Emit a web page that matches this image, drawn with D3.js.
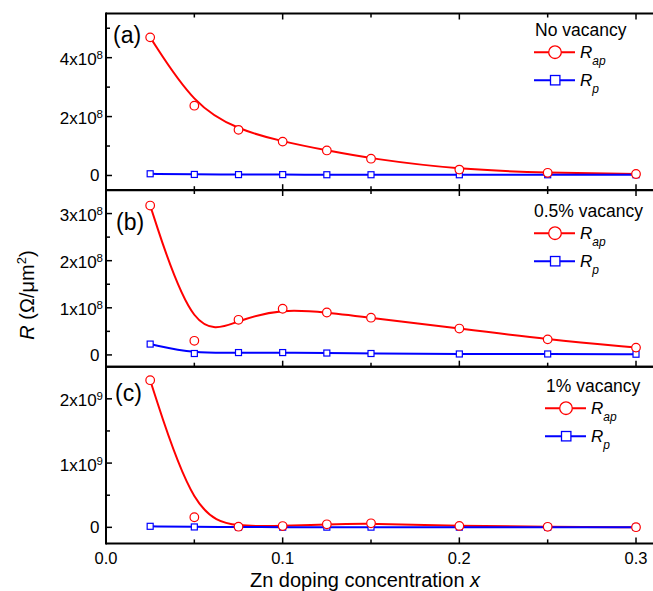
<!DOCTYPE html>
<html>
<head>
<meta charset="utf-8">
<script src="https://cdn.jsdelivr.net/npm/d3@7"></script>
<style>
  body { margin: 0; background: #fff; }
  text { font-family: "Liberation Sans", Arial, sans-serif; fill: #000; }
</style>
</head>
<body>
<div id="chart"></div>
<script>
// Data
var xVals = [0.025, 0.05, 0.075, 0.1, 0.125, 0.15, 0.2, 0.25, 0.3];

var rapNoVac = [4.69e8, 2.37e8, 1.55e8, 1.15e8, 0.85e8, 0.57e8, 0.20e8, 0.09e8, 0.05e8];
var rpNoVac  = [0.058e8, 0.035e8, 0.03e8, 0.03e8, 0.025e8, 0.025e8, 0.024e8, 0.024e8, 0.024e8];

var rapHalf = [3.17e8, 0.30e8, 0.745e8, 0.98e8, 0.90e8, 0.79e8, 0.56e8, 0.33e8, 0.155e8];
var rpHalf  = [0.23e8, 0.03e8, 0.05e8, 0.05e8, 0.04e8, 0.03e8, 0.02e8, 0.02e8, 0.015e8];

var rapOne = [2.29e9, 0.157e9, 0.01e9, 0.02e9, 0.047e9, 0.063e9, 0.022e9, 0.008e9, 0.002e9];
var rpOne  = [0.016e9, 0.006e9, 0.004e9, 0.003e9, 0.003e9, 0.003e9, 0.003e9, 0.002e9, 0.002e9];

var panelNames = ["(a)", "(b)", "(c)"];
var legendTitles = ["No vacancy", "0.5% vacancy", "1% vacancy"];

var yDomains = [[-0.5e8, 5.5e8], [-0.25e8, 3.5e8], [-0.25e9, 2.5e9]];
var yMajor = [[0, 2e8, 4e8], [0, 1e8, 2e8, 3e8], [0, 1e9, 2e9]];
var yMinor = [[1e8, 3e8, 5e8], [0.5e8, 1.5e8, 2.5e8], [0.5e9, 1.5e9]];
var yLabels = [["0", "2x10^8", "4x10^8"], ["0", "1x10^8", "2x10^8", "3x10^8"], ["0", "1x10^9", "2x10^9"]];

var xMajor = [0, 0.1, 0.2, 0.3];
var xMinor = [0.05, 0.15, 0.25];
var xLabels = ["0.0", "0.1", "0.2", "0.3"];

var rapSeries = [rapNoVac, rapHalf, rapOne];
var rpSeries = [rpNoVac, rpHalf, rpOne];

// Chart Params
var svgWidth = 653;
var svgHeight = 591;
var left = 106;
var panelTops = [13.5, 190, 366.7];
var panelH = 176.7;

var svg = d3.select("#chart")
  .append("svg")
  .attr("width", svgWidth)
  .attr("height", svgHeight);

var xScale = d3.scaleLinear()
  .domain([0, 0.31])
  .range([left, left + 0.31 * 1766.7]);

var red = "#ff0000";
var blue = "#0000ff";

// per-panel layout tweaks
var nameY = [43, 230, 401];
var nameX = [113, 116, 115];
var legX = [534, 534, 545];
var legTitleX = [535, 534, 546];
var legTitleY = [35.7, 216.7, 391.7];

panelNames.forEach(function(name, i) {
  var top = panelTops[i];
  var bottom = top + panelH;
  var yScale = d3.scaleLinear().domain(yDomains[i]).range([bottom, top]);
  var g = svg.append("g");

  // curves
  var pts = function(arr) { return xVals.map(function(x, k) { return [x, arr[k]]; }); };
  var line = d3.line()
    .x(function(d) { return xScale(d[0]); })
    .y(function(d) { return yScale(d[1]); })
    .curve(d3.curveBasis);

  g.append("path").datum(pts(rapSeries[i]))
    .attr("d", line).attr("fill", "none").attr("stroke", red).attr("stroke-width", 2);
  g.append("path").datum(pts(rpSeries[i]))
    .attr("d", line).attr("fill", "none").attr("stroke", blue).attr("stroke-width", 2);

  g.selectAll(".sq").data(pts(rpSeries[i])).enter().append("rect")
    .attr("x", function(d) { return xScale(d[0]) - 3; })
    .attr("y", function(d) { return yScale(d[1]) - 3; })
    .attr("width", 6).attr("height", 6)
    .attr("fill", "#fff").attr("stroke", blue).attr("stroke-width", 1.2);

  g.selectAll(".ci").data(pts(rapSeries[i])).enter().append("circle")
    .attr("cx", function(d) { return xScale(d[0]); })
    .attr("cy", function(d) { return yScale(d[1]); })
    .attr("r", 4.3)
    .attr("fill", "#fff").attr("stroke", red).attr("stroke-width", 1.2);

  // frame
  g.append("line").attr("x1", left).attr("x2", svgWidth).attr("y1", top).attr("y2", top)
    .attr("stroke", "#000").attr("stroke-width", 2);
  g.append("line").attr("x1", left).attr("x2", svgWidth).attr("y1", bottom).attr("y2", bottom)
    .attr("stroke", "#000").attr("stroke-width", 2);
  g.append("line").attr("x1", left).attr("x2", left).attr("y1", top - 1).attr("y2", bottom + 1)
    .attr("stroke", "#000").attr("stroke-width", 2);

  // y ticks (inward)
  yMajor[i].forEach(function(v) {
    g.append("line").attr("x1", left - 1).attr("x2", left + 6)
      .attr("y1", yScale(v)).attr("y2", yScale(v)).attr("stroke", "#000").attr("stroke-width", 1.5);
  });
  yMinor[i].forEach(function(v) {
    g.append("line").attr("x1", left).attr("x2", left + 4)
      .attr("y1", yScale(v)).attr("y2", yScale(v)).attr("stroke", "#000").attr("stroke-width", 1.5);
  });

  // y tick labels
  yMajor[i].forEach(function(v, k) {
    var parts = yLabels[i][k].split("^");
    var t = g.append("text")
      .attr("x", parts.length > 1 ? 103 : 99.5)
      .attr("y", yScale(v) + (parts.length > 1 ? 7.5 : 5.8))
      .attr("text-anchor", "end")
      .style("font-size", "17px");
    t.append("tspan").text(parts[0]);
    if (parts.length > 1) {
      t.append("tspan").attr("dy", -6).style("font-size", "11.5px").text(parts[1]);
    }
  });

  // x ticks: bottom inward on every panel, top inward on (a) and (b)
  var tickSets = [[bottom, -1]];
  if (i < 2) tickSets.push([top, 1]);
  tickSets.forEach(function(ts) {
    xMajor.concat(xMinor).forEach(function(v) {
      var len = xMajor.indexOf(v) >= 0 ? 6 : 4;
      g.append("line").attr("x1", xScale(v)).attr("x2", xScale(v))
        .attr("y1", ts[0]).attr("y2", ts[0] + ts[1] * len)
        .attr("stroke", "#000").attr("stroke-width", 1.5);
    });
  });

  // panel name
  g.append("text").attr("x", nameX[i]).attr("y", nameY[i])
    .style("font-size", "23px").text(name);

  // legend
  var lx = legX[i];
  g.append("text").attr("x", legTitleX[i]).attr("y", legTitleY[i])
    .style("font-size", "17.5px").text(legendTitles[i]);
  var rows = [
    { color: red, shape: "circle", sub: "ap", y: legTitleY[i] + 16.5 },
    { color: blue, shape: "square", sub: "p", y: legTitleY[i] + 44.5 }
  ];
  rows.forEach(function(r) {
    g.append("line").attr("x1", lx).attr("x2", lx + 41).attr("y1", r.y).attr("y2", r.y)
      .attr("stroke", r.color).attr("stroke-width", 2);
    if (r.shape === "circle") {
      g.append("circle").attr("cx", lx + 21).attr("cy", r.y).attr("r", 6.3)
        .attr("fill", "#fff").attr("stroke", r.color).attr("stroke-width", 1.3);
    } else {
      g.append("rect").attr("x", lx + 16.5).attr("y", r.y - 4.7).attr("width", 9.4).attr("height", 9.4)
        .attr("fill", "#fff").attr("stroke", r.color).attr("stroke-width", 1.3);
    }
    var t = g.append("text").attr("x", lx + 46).attr("y", r.y + 6)
      .style("font-size", "17px").style("font-style", "italic");
    t.append("tspan").text("R");
    t.append("tspan").attr("dy", 7).style("font-size", "12px").text(r.sub);
  });
});

// x tick labels under panel (c)
var lastBottom = panelTops[2] + panelH;
xMajor.forEach(function(v, k) {
  svg.append("text").attr("x", xScale(v)).attr("y", lastBottom + 21)
    .attr("text-anchor", "middle").style("font-size", "16.5px").text(xLabels[k]);
});

// axis titles
var xt = svg.append("text").attr("x", 365).attr("y", 586.5)
  .attr("text-anchor", "middle").style("font-size", "20px");
xt.append("tspan").text("Zn doping concentration ");
xt.append("tspan").style("font-style", "italic").text("x");

var yt = svg.append("text")
  .attr("transform", "translate(34, 295) rotate(-90)")
  .attr("text-anchor", "middle").style("font-size", "20px");
yt.append("tspan").style("font-style", "italic").text("R");
yt.append("tspan").text(" (\u03A9/\u03BCm");
yt.append("tspan").attr("dy", -8).style("font-size", "13px").text("2");
yt.append("tspan").attr("dy", 8).text(")");
</script>
</body>
</html>
